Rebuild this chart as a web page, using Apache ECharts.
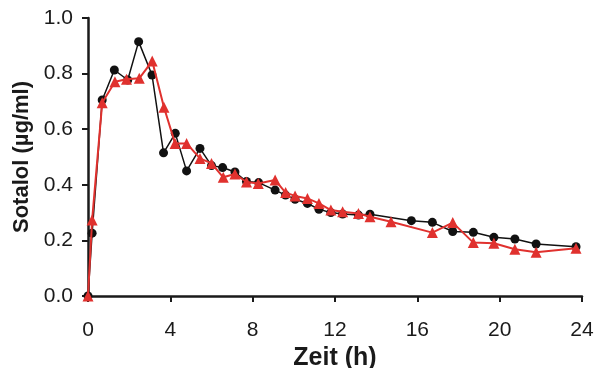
<!DOCTYPE html>
<html>
<head>
<meta charset="utf-8">
<script src="https://cdn.jsdelivr.net/npm/echarts@6/dist/echarts.min.js"></script>
<style>
  html, body { margin: 0; padding: 0; background: #fff; }
  #main { width: 597px; height: 368px; }
</style>
</head>
<body>
<div id="main"></div>
<script>
// Zeit (h) und Konzentration (µg/ml)
var blackTimes = [0, 0.2, 0.69, 1.28, 1.93, 2.46, 3.11, 3.67, 4.24, 4.79, 5.44, 6.0, 6.54, 7.14, 7.7, 8.29, 9.09, 9.6, 10.06, 10.66, 11.22, 11.8, 12.37, 13.14, 13.7, 15.71, 16.73, 17.72, 18.72, 19.72, 20.74, 21.77, 23.71];
var blackValues = [0, 0.226, 0.705, 0.813, 0.777, 0.915, 0.795, 0.515, 0.585, 0.45, 0.531, 0.469, 0.462, 0.446, 0.412, 0.408, 0.381, 0.363, 0.348, 0.333, 0.312, 0.3, 0.295, 0.291, 0.294, 0.271, 0.265, 0.232, 0.229, 0.211, 0.205, 0.187, 0.177];

var redTimes = [0, 0.2, 0.69, 1.31, 1.87, 2.49, 3.12, 3.69, 4.23, 4.79, 5.44, 6.0, 6.57, 7.14, 7.7, 8.27, 9.09, 9.6, 10.06, 10.66, 11.22, 11.8, 12.37, 13.14, 13.7, 14.72, 16.73, 17.72, 18.72, 19.72, 20.74, 21.77, 23.71];
var redValues = [0, 0.273, 0.695, 0.771, 0.78, 0.783, 0.845, 0.679, 0.549, 0.549, 0.495, 0.477, 0.427, 0.439, 0.41, 0.405, 0.417, 0.372, 0.36, 0.351, 0.333, 0.309, 0.303, 0.297, 0.285, 0.267, 0.228, 0.264, 0.192, 0.19, 0.168, 0.157, 0.172];

var xTicks = [0, 4, 8, 12, 16, 20, 24];
var yTicks = [0.0, 0.2, 0.4, 0.6, 0.8, 1.0];

function pairs(xs, ys) {
    return xs.map(function (x, i) { return [x, ys[i]]; });
}

var chart = echarts.init(document.getElementById('main'), null, { renderer: 'canvas' });

var fontFam = 'Liberation Sans, Arial, sans-serif';
var ink = '#1a1a1a';

var option = {
    animation: false,
    backgroundColor: '#fff',
    grid: { left: 88, right: 15, top: 18, bottom: 72, containLabel: false, outerBoundsMode: 'none' },
    xAxis: {
        type: 'value',
        min: xTicks[0],
        max: xTicks[xTicks.length - 1],
        interval: 4,
        name: 'Zeit (h)',
        nameLocation: 'middle',
        nameGap: 49,
        nameTextStyle: { color: ink, fontFamily: fontFam, fontSize: 25, fontWeight: 'bold' },
        axisLine: { show: true, lineStyle: { color: ink, width: 2.5 } },
        axisTick: { show: true, inside: false, length: 6, lineStyle: { color: ink, width: 2 } },
        axisLabel: { color: ink, fontFamily: fontFam, fontSize: 21, margin: 24 },
        splitLine: { show: false }
    },
    yAxis: {
        type: 'value',
        min: yTicks[0],
        max: yTicks[yTicks.length - 1],
        interval: 0.2,
        name: 'Sotalol (µg/ml)',
        nameLocation: 'middle',
        nameGap: 55,
        nameTextStyle: { color: ink, fontFamily: fontFam, fontSize: 22, fontWeight: 'bold' },
        axisLine: { show: true, lineStyle: { color: ink, width: 2.5 } },
        axisTick: { show: true, inside: false, length: 6, lineStyle: { color: ink, width: 2 } },
        axisLabel: {
            color: ink, fontFamily: fontFam, fontSize: 21, margin: 15,
            formatter: function (v) { return v.toFixed(1); }
        },
        splitLine: { show: false }
    },
    series: [
        {
            name: 'schwarz',
            type: 'line',
            data: pairs(blackTimes, blackValues),
            symbol: 'circle',
            symbolSize: 9,
            showAllSymbol: true,
            lineStyle: { color: '#111', width: 1.5 },
            itemStyle: { color: '#111' },
            z: 2
        },
        {
            name: 'rot',
            type: 'line',
            data: pairs(redTimes, redValues),
            symbol: 'triangle',
            symbolSize: 11,
            showAllSymbol: true,
            lineStyle: { color: '#e0312e', width: 2 },
            itemStyle: { color: '#e0312e' },
            z: 3
        }
    ]
};

chart.setOption(option);
</script>
</body>
</html>
